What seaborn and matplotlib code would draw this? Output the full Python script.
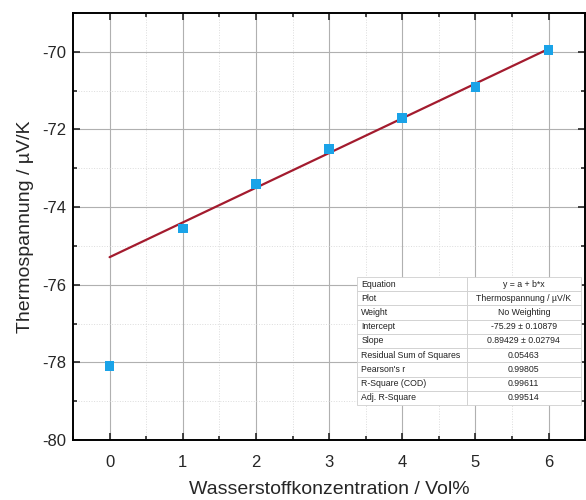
import numpy as np
import pandas as pd
import matplotlib
matplotlib.use("Agg")
import matplotlib.pyplot as plt
import seaborn as sns
from matplotlib.ticker import MultipleLocator

konz = [0, 1, 2, 3, 4, 5, 6]
spannung = [-78.1, -74.55, -73.4, -72.5, -71.7, -70.9, -69.95]
intercept = -75.29
slope = 0.89429

stat_names = ["Equation", "Plot", "Weight", "Intercept", "Slope",
              "Residual Sum of Squares", "Pearson's r", "R-Square (COD)", "Adj. R-Square"]
stat_values = ["y = a + b*x", "Thermospannung / µV/K", "No Weighting",
               "-75.29 ± 0.10879", "0.89429 ± 0.02794", "0.05463",
               "0.99805", "0.99611", "0.99514"]

df = pd.DataFrame({"x": konz, "y": spannung})
fit = pd.DataFrame({"x": konz, "y": [intercept + slope * k for k in konz]})

sns.set_style("ticks")
plt.rcParams["font.family"] = ["Liberation Sans", "DejaVu Sans"]
plt.rcParams["axes.unicode_minus"] = False

fig = plt.figure(figsize=(5.86, 5.0), dpi=100)
ax = fig.add_axes([0.1246, 0.12, 0.874, 0.854])

sns.lineplot(data=fit, x="x", y="y", ax=ax, color="#a31b2e", linewidth=1.6, zorder=3)
sns.scatterplot(data=df, x="x", y="y", ax=ax, marker="s", s=48, color="#1aa3e8",
                edgecolor="none", zorder=4)

ax.set_xlim(-0.5, 6.5)
ax.set_ylim(-80, -69)
ax.xaxis.set_major_locator(MultipleLocator(1))
ax.xaxis.set_minor_locator(MultipleLocator(0.5))
ax.yaxis.set_major_locator(MultipleLocator(2))
ax.yaxis.set_minor_locator(MultipleLocator(1))
ax.grid(which="major", color="#b0b0b0", linewidth=0.8)
ax.grid(which="minor", color="#dcdcdc", linewidth=0.7, linestyle=":")
ax.tick_params(which="both", direction="in", top=True, right=True, labelsize=12, width=1.2)
ax.tick_params(which="major", length=5)
ax.tick_params(which="minor", length=3)
ax.tick_params(axis="x", pad=11)
ax.tick_params(axis="y", pad=5)
for s in ax.spines.values():
    s.set_linewidth(1.4)
    s.set_color("black")

ax.set_xlabel("Wasserstoffkonzentration / Vol%", fontsize=14, labelpad=8)
ax.set_ylabel("Thermospannung / µV/K", fontsize=14, labelpad=6)

# fit statistics table
tab = ax.table(cellText=[[n, v] for n, v in zip(stat_names, stat_values)],
               cellLoc="center", colWidths=[0.49, 0.51],
               bbox=[0.5545, 0.082, 0.437, 0.3])
tab.auto_set_font_size(False)
tab.set_fontsize(6.3)
tab.set_zorder(6)
for (r, c), cell in tab.get_celld().items():
    cell.set_edgecolor("#cfcfcf")
    cell.set_linewidth(0.6)
    cell.set_facecolor("white")
    cell.get_text().set_color("#222222")
    if c == 0:
        cell._loc = "left"
        cell.get_text().set_horizontalalignment("left")
        cell.PAD = 0.04

plt.savefig("out.png", dpi=100)
